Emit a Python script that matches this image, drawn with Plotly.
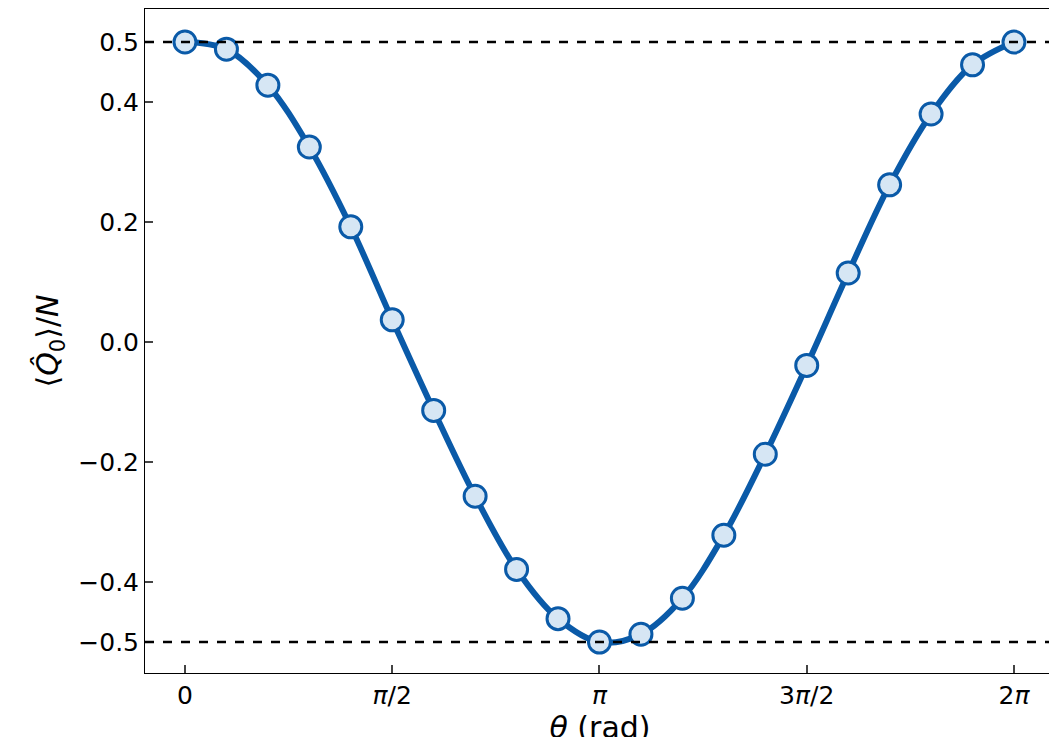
import numpy as np
import plotly.graph_objects as go

theta_frac = [i/10 for i in range(21)]  # multiples of pi
q0 = [0.5, 0.488, 0.428, 0.325, 0.192, 0.037, -0.114, -0.257, -0.379, -0.461, -0.5,
      -0.487, -0.427, -0.322, -0.187, -0.039, 0.115, 0.262, 0.380, 0.462, 0.5]
tick_vals_frac = [0, 0.5, 1, 1.5, 2]
tick_text = ["0", "<i>π</i>/2", "<i>π</i>", "3<i>π</i>/2", "2<i>π</i>"]
ytick_vals = [-0.5, -0.4, -0.2, 0.0, 0.2, 0.4, 0.5]
ytick_text = ["−0.5", "−0.4", "−0.2", "0.0", "0.2", "0.4", "0.5"]

theta = [f*np.pi for f in theta_frac]
col = "#0a5aa8"
fig = go.Figure()
for yv in [0.5, -0.5]:
    fig.add_hline(y=yv, line=dict(color="black", dash="dash", width=2.5))
fig.add_trace(go.Scatter(x=theta, y=q0, mode="lines", line=dict(color=col, width=6, shape="spline", smoothing=1.0)))
fig.add_trace(go.Scatter(x=theta, y=q0, mode="markers",
                         marker=dict(size=22, color="#d6e6f4", line=dict(color=col, width=3))))
fig.update_layout(
    width=1057, height=737, showlegend=False, plot_bgcolor="white", paper_bgcolor="white",
    margin=dict(l=137, r=10, t=1, b=72),
    font=dict(family="DejaVu Sans", size=25, color="black"),
)
fig.update_xaxes(range=[-0.303, 6.594], tickvals=[f*np.pi for f in tick_vals_frac], ticktext=tick_text,
                 ticks="inside", ticklen=8, tickwidth=1.5, showline=True, linecolor="black", mirror=True,
                 showgrid=False, zeroline=False, automargin=False,
                 title=dict(text="<i>θ</i> (rad)", standoff=0))
fig.update_yaxes(range=[-0.5516, 0.555], tickvals=ytick_vals, ticktext=ytick_text,
                 ticks="inside", ticklen=8, tickwidth=1.5, showline=True, linecolor="black", mirror=True,
                 showgrid=False, zeroline=False, automargin=False,
                 title=dict(text="⟨<i>Q̂</i><sub>0</sub>⟩/<i>N</i>", standoff=10))
fig.write_html("out.html")
